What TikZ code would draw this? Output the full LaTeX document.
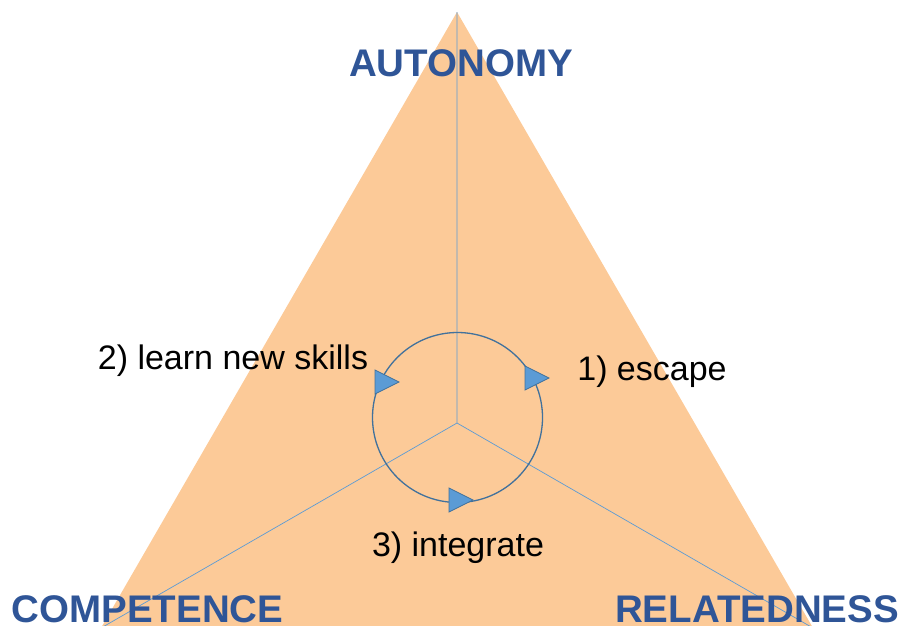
\documentclass[tikz,border=0pt]{standalone}
\usepackage{fontspec}
\setmainfont{Liberation Sans}
\usetikzlibrary{positioning}
\definecolor{peach}{RGB}{252,202,152}
\definecolor{spoke}{RGB}{91,155,213}
\definecolor{ring}{RGB}{65,113,156}
\definecolor{title}{RGB}{47,85,151}
\tikzset{x=1pt, y=-1pt, % one unit is one pixel of the reference
need/.style={font=\fontsize{38.5}{40}\selectfont\bfseries, text=title, inner sep=0pt, text depth=0pt, anchor=base}, % the three needs
step label/.style={font=\fontsize{34}{36}\selectfont, inner sep=0pt, anchor=base}, % the three steps
tip/.style={fill=spoke, draw=ring, line width=0.8pt, line join=miter}, % arrow heads on the ring
}

\begin{document}
\begin{tikzpicture}
\useasboundingbox (0,0) rectangle (901,625);
\clip (0,0) rectangle (901,625);
\coordinate (top) at (457,12);
\coordinate (left) at (101,628);
\coordinate (right) at (813,628);
\coordinate (mid) at (457,423);
\fill[peach] (top) -- (left) -- (right) -- cycle;
\draw[spoke, line width=0.7pt] (mid) -- (top)
(mid) -- (left)
(mid) -- (right);
\draw[ring, line width=1.3pt] (457.5,417.5) circle[radius=85];
% arrow heads, all pointing right
\coordinate (t1) at (533,378);
\coordinate (t2) at (383,382);
\coordinate (t3) at (457,500);
\foreach \t in {t1,t2,t3}
\draw[tip] ([shift={(-8,-12)}]\t) -- ([shift={(16,0)}]\t) -- ([shift={(-8,12)}]\t) -- cycle;
\node[need] (auto) at (461,76) {AUTONOMY};
\node[need] (comp) at (147.5,622) {COMPETENCE};
\node[need] (rel) at (757,622) {RELATEDNESS};
\node[step label] (learn) at (233,369) {2) learn new skills};
\node[step label] (escape) at (652,380) {1) escape};
\node[step label] (integ) at (458,556) {3) integrate};
\end{tikzpicture}
\end{document}
